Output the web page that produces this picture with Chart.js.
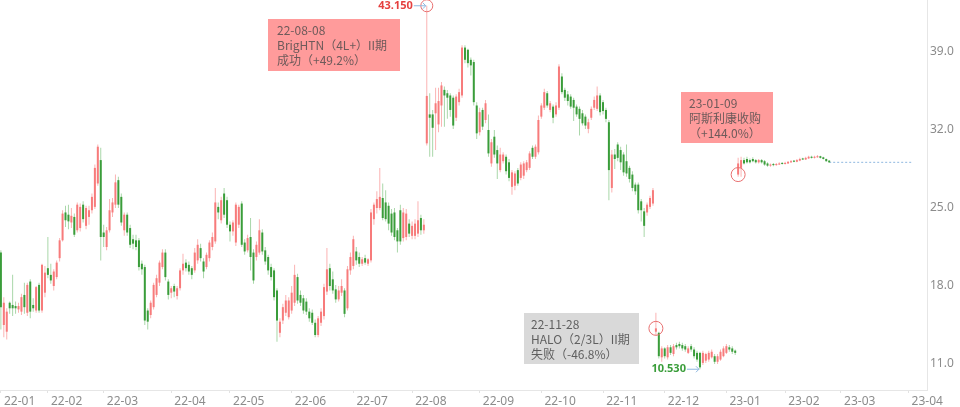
<!DOCTYPE html>
<html>
<head>
<meta charset="utf-8">
<script src="https://cdn.jsdelivr.net/npm/chart.js@4.4.1/dist/chart.umd.min.js"></script>
<style>
  body { margin: 0; background: #fff; }
  #wrap { width: 960px; height: 407px; }
</style>
</head>
<body>
<div id="wrap"><canvas id="grafico" width="960" height="407"></canvas></div>
<script>
// velas diarias (indice = dia de cotizacion desde el primer dato)
const open = [
  21.0,14.5,13.9,16.5,16.3,16.2,15.9,15.7,17.2,15.6,
  18.4,16.3,15.8,18.1,15.8,17.4,19.6,19.0,18.0,18.8,
  20.5,22.1,24.6,24.4,23.7,24.2,23.0,23.2,25.3,23.4,
  24.2,24.8,25.1,27.2,29.3,22.8,21.5,23.0,24.6,25.3,
  27.5,26.0,23.0,24.4,23.2,22.2,22.1,22.1,20.0,19.7,
  15.8,15.4,16.1,17.2,18.3,19.7,21.0,18.4,17.4,18.0,
  17.1,17.8,19.4,20.1,19.9,19.6,19.4,20.3,21.4,20.2,
  19.7,20.5,21.5,22.0,25.1,23.9,26.3,25.7,23.5,22.9,
  21.9,23.5,25.4,21.9,21.2,22.4,21.0,20.6,21.0,22.8,
  21.2,20.6,19.7,19.4,17.6,13.8,14.9,15.6,15.2,15.8,
  16.5,18.8,17.2,16.9,16.6,15.7,15.6,14.7,13.6,14.7,
  15.3,17.5,19.6,18.6,17.7,16.8,17.4,17.6,16.0,19.4,
  19.8,21.1,20.6,20.0,20.5,20.0,20.3,24.0,25.0,25.0,
  25.9,25.5,25.2,24.5,24.6,23.0,24.8,22.3,22.4,23.6,
  22.5,22.5,22.7,24.1,23.0,30.8,33.4,33.4,33.5,32.5,
  34.2,35.6,35.3,35.1,34.9,33.1,34.5,35.1,39.4,39.2,
  38.3,38.1,34.2,31.8,33.8,32.9,32.0,29.0,31.4,30.2,
  28.4,29.2,29.6,29.1,26.9,27.0,28.4,27.7,27.9,28.4,
  28.6,30.4,29.6,30.0,33.2,34.0,35.3,33.8,34.1,33.4,
  34.0,36.8,35.6,35.2,35.0,34.7,34.1,33.9,33.5,33.2,
  32.1,33.1,34.0,33.9,35.1,34.5,33.8,32.7,26.8,29.8,
  30.7,30.2,29.8,29.2,28.6,28.0,27.1,27.1,25.6,24.7,
  24.6,25.1,25.4,13.9,13.8,11.6,12.4,11.6,12.5,11.9,
  12.7,12.8,12.7,12.6,12.0,12.6,12.3,12.0,12.0,11.1,
  11.3,11.4,11.6,11.7,11.2,11.4,11.7,12.0,12.5,12.4,
  12.2,28.0,28.6,29.3,29.4,29.3,29.4,29.3,29.1,29.3,
  29.2,29.0,28.8,28.95,28.85,28.9,29.05,28.95,29.0,29.1,
  29.25,29.15,29.25,29.45,29.35,29.45,29.6,29.5,29.55,29.65,
  29.55,29.4,29.25
];
const high = [
  21.2,17.0,16.0,16.6,19.0,16.6,16.5,17.3,18.3,18.3,
  18.6,16.9,18.0,18.3,20.0,19.8,22.4,20.0,19.5,20.3,
  22.3,24.8,25.2,25.3,25.0,24.5,25.5,25.4,25.6,25.2,
  25.2,26.3,28.9,30.7,30.4,23.5,23.3,25.8,25.9,28.0,
  27.8,26.3,24.6,24.6,23.5,22.6,22.6,22.3,20.3,19.9,
  16.0,16.7,18.3,19.0,20.3,21.3,21.3,18.6,18.0,18.2,
  18.0,19.6,20.9,20.4,20.2,19.8,21.4,22.2,21.8,20.5,
  21.0,22.1,22.8,26.8,25.5,26.0,26.8,26.0,23.8,23.9,
  25.5,25.3,25.6,22.2,22.6,24.1,21.3,22.0,24.0,23.1,
  21.5,20.8,20.0,19.6,17.8,15.1,16.4,17.2,17.0,18.0,
  19.9,19.1,17.6,17.2,16.9,16.0,15.9,15.0,15.3,16.0,
  18.2,21.4,20.0,19.3,18.1,18.0,18.6,17.8,19.8,21.0,
  22.5,21.5,21.0,20.6,20.8,20.5,24.9,25.5,26.5,28.6,
  27.2,26.6,25.5,24.9,25.0,23.2,25.3,25.0,24.9,24.0,
  23.8,24.0,25.6,24.4,24.0,43.15,35.3,33.8,35.8,35.8,
  36.3,35.9,35.6,35.3,35.1,35.2,35.7,39.6,39.6,39.3,
  38.5,38.3,34.5,34.0,34.0,34.7,33.4,31.2,32.0,30.6,
  30.4,30.0,29.8,29.4,28.4,28.3,28.6,29.1,29.2,29.3,
  30.1,30.6,30.7,33.3,34.4,35.7,35.5,34.6,34.3,34.5,
  37.9,37.1,35.8,35.5,35.2,34.9,34.3,34.1,33.8,33.4,
  33.0,34.1,35.0,35.9,35.3,34.7,34.0,32.9,30.2,30.3,
  30.9,30.5,30.0,30.7,28.8,28.3,27.3,27.3,25.8,25.0,
  25.5,26.1,26.8,15.6,13.9,12.6,12.5,12.7,12.7,12.8,
  12.9,13.0,12.9,12.8,12.6,12.8,12.5,12.2,12.1,12.2,
  12.0,12.2,12.3,11.9,11.9,12.3,12.6,12.8,12.7,12.6,
  12.3,29.5,29.6,29.5,29.6,29.45,29.55,29.4,29.4,29.4,
  29.3,29.1,29.0,29.05,29.05,29.1,29.1,29.15,29.2,29.3,
  29.3,29.4,29.5,29.5,29.6,29.7,29.7,29.7,29.75,29.7,
  29.6,29.45,29.3
];
const low = [
  14.1,13.4,13.2,15.5,15.3,15.5,15.6,15.4,15.5,15.3,
  15.1,15.7,15.6,15.6,15.6,17.0,18.7,18.2,17.6,18.6,
  20.2,22.0,23.3,23.1,23.2,22.4,22.8,22.9,23.7,23.1,
  23.5,24.5,24.9,27.0,20.3,21.5,21.2,22.8,24.2,25.0,
  25.0,23.4,22.5,22.5,21.4,21.3,21.2,19.4,19.0,14.5,
  14.1,15.1,15.9,17.0,18.0,19.5,18.5,16.8,16.9,17.0,
  16.8,17.6,19.0,19.3,19.0,18.6,19.2,20.0,20.2,18.7,
  19.5,20.2,21.2,21.8,24.0,23.6,24.1,23.2,22.0,22.5,
  21.6,23.2,21.5,20.8,21.0,19.4,18.2,20.3,20.8,20.8,
  19.9,19.0,18.5,16.7,13.0,13.4,14.6,15.3,15.0,15.5,
  16.2,16.4,16.2,15.5,15.4,14.8,14.5,13.4,13.4,14.4,
  15.0,17.2,17.6,17.3,16.5,16.6,17.1,15.2,15.8,19.0,
  19.5,19.9,19.7,19.8,19.9,19.8,20.1,23.5,24.5,24.8,
  23.9,23.8,23.0,22.5,22.1,21.0,21.7,22.0,22.1,22.4,
  22.2,22.2,22.4,22.6,22.7,30.6,29.6,29.6,30.2,31.8,
  32.3,32.3,33.0,33.2,32.1,32.8,34.2,34.9,38.0,37.6,
  36.9,34.2,31.2,31.5,32.0,32.6,29.6,28.7,29.5,27.6,
  28.2,29.0,28.0,27.4,26.2,26.6,27.0,27.5,27.6,28.2,
  28.4,29.4,29.4,29.8,33.0,33.8,34.0,33.6,32.6,33.2,
  33.8,35.2,34.6,34.2,33.9,32.8,33.2,31.5,32.4,32.1,
  31.7,32.9,33.8,33.7,33.3,33.4,32.7,25.7,26.4,28.5,
  29.2,28.4,27.9,27.8,27.3,26.5,26.2,24.5,23.8,22.4,
  24.3,24.9,25.2,13.6,11.5,11.2,11.5,11.4,11.8,11.7,
  12.3,12.4,12.2,12.1,11.9,12.1,11.5,11.2,10.53,10.9,
  11.1,11.2,11.5,11.0,11.0,11.3,11.6,11.9,12.1,11.9,
  11.8,27.8,27.8,28.9,29.0,29.0,29.1,29.0,29.0,29.0,
  28.8,28.7,28.7,28.75,28.8,28.85,28.9,28.9,28.95,29.05,
  29.1,29.1,29.2,29.3,29.3,29.4,29.45,29.45,29.5,29.45,
  29.35,29.15,29.05
];
const close = [
  16.1,16.5,15.7,16.0,16.0,16.0,16.2,17.0,16.1,18.1,
  15.7,16.0,17.9,15.8,19.9,19.2,19.0,18.5,19.3,20.1,
  22.1,24.5,23.9,23.8,24.3,22.6,25.3,25.1,24.0,25.0,
  24.8,26.0,28.6,30.5,22.4,22.4,23.0,24.8,25.5,27.3,
  25.3,23.7,24.4,22.8,21.7,21.8,21.5,19.7,19.5,14.9,
  14.8,16.5,18.1,18.7,20.1,21.0,18.8,17.2,17.8,17.5,
  17.8,19.4,20.0,19.6,19.3,19.0,21.0,21.7,20.5,19.3,
  20.8,21.9,22.4,25.5,24.6,25.7,24.4,23.5,22.9,23.7,
  25.3,25.1,21.7,21.1,22.3,20.6,18.5,21.7,23.0,21.1,
  20.2,19.4,18.8,17.0,14.9,14.8,16.1,16.7,16.7,17.4,
  19.0,16.7,16.5,15.8,15.7,15.1,14.7,13.6,15.1,15.7,
  17.9,19.5,18.0,17.6,16.8,17.6,18.0,15.5,19.5,20.6,
  22.2,20.3,20.0,20.4,20.1,20.4,24.6,25.3,25.8,26.0,
  24.1,24.0,23.6,22.8,22.4,22.0,22.0,24.6,24.5,22.7,
  23.4,23.6,23.9,23.0,23.5,35.06,33.1,32.2,34.4,34.6,
  36.0,35.1,34.9,33.8,32.4,35.0,35.4,39.4,38.3,38.0,
  37.8,34.5,31.7,33.6,32.3,34.4,29.9,30.9,29.8,29.0,
  29.8,29.8,28.3,27.7,28.2,28.1,27.2,28.9,29.0,29.1,
  29.9,29.6,30.5,32.9,34.2,35.4,34.2,34.4,33.1,34.2,
  37.7,35.4,34.9,34.6,34.1,34.0,33.4,33.0,32.6,32.4,
  32.7,33.9,34.7,35.1,33.6,33.7,33.0,28.4,29.8,29.4,
  29.5,29.1,28.2,28.1,27.6,26.8,26.5,24.8,24.8,23.4,
  25.3,25.9,26.6,14.2,11.7,12.4,11.7,12.5,12.0,12.6,
  12.5,12.6,12.4,12.3,12.4,12.3,11.7,11.4,10.7,12.0,
  11.9,12.0,12.1,11.2,11.7,12.1,12.4,12.6,12.3,12.1,
  12.0,29.0,29.3,29.0,29.1,29.1,29.2,29.1,29.3,29.1,
  28.9,28.8,28.9,28.85,28.95,29.0,28.95,29.05,29.15,29.2,
  29.15,29.3,29.4,29.35,29.5,29.6,29.5,29.6,29.65,29.5,
  29.4,29.2,29.1
];

// eje x: inicio de cada mes (indice de dia) y su etiqueta
const monthIdx = [0, 16, 35, 58, 78, 99, 120, 140, 163, 184, 205, 226, 247, 267, 286, 309];
const monthLabels = ['22-01','22-02','22-03','22-04','22-05','22-06','22-07','22-08','22-09','22-10','22-11','22-12','23-01','23-02','23-03','23-04'];
const yTicks = [11, 18, 25, 32, 39];
const tailEnd = 310; // linea punteada despues del ultimo dato

// eventos
const eventIdx = [145, 223, 251];
const eventPrice = [43.15, 14.2, 28.0];
const eventText = [
  ['22-08-08', 'BrigHTN（4L+）II期', '成功（+49.2%）'],
  ['22-11-28', 'HALO（2/3L）II期', '失败（-46.8%）'],
  ['23-01-09', '阿斯利康收购', '（+144.0%）']
];
const maxIdx = 145, minIdx = 238;

const n = close.length;
const idx = close.map((c, i) => i);
const up = close.map((c, i) => c >= open[i]);
const bodyColor = up.map(u => u ? '#f77b7b' : '#3a9d3a');
const wickColor = up.map(u => u ? '#fbb3b3' : '#a9d7a9');
const fam = '"Noto Sans", "Noto Sans CJK SC", sans-serif';

// cajas de texto (posicion en pixeles)
const boxes = [
  { x: 268, y: 19, w: 132, h: 52, fill: '#ff9b9b', txt: eventText[0], tx: 9, color: '#6e5a5a' },
  { x: 524, y: 313, w: 115, h: 51, fill: '#d9d9d9', txt: eventText[1], tx: 7, color: '#5f5f5f' },
  { x: 681, y: 92, w: 92, h: 51, fill: '#ff9b9b', txt: eventText[2], tx: 8, color: '#6e5a5a' }
];

const marcas = {
  id: 'marcas',
  afterDraw(chart) {
    const ctx = chart.ctx;
    const xs = chart.scales.x, ys = chart.scales.y;
    ctx.save();
    boxes.forEach(b => {
      ctx.fillStyle = b.fill;
      ctx.fillRect(b.x, b.y, b.w, b.h);
      ctx.fillStyle = b.color;
      ctx.font = '12px "Noto Sans CJK SC", sans-serif';
      ctx.textBaseline = 'middle';
      ctx.textAlign = 'left';
      b.txt.forEach((t, k) => ctx.fillText(t, b.x + b.tx, b.y + 11 + k * 15));
    });
    // circulos
    ctx.strokeStyle = '#e87070';
    ctx.lineWidth = 1;
    eventIdx.forEach((e, k) => {
      const px = xs.getPixelForValue(e), py = ys.getPixelForValue(eventPrice[k]);
      ctx.beginPath();
      ctx.arc(px, py, k === 0 ? 6 : 7, 0, Math.PI * 2);
      ctx.stroke();
    });
    // maximo y minimo
    const etiqueta = (i, v, color) => {
      const px = xs.getPixelForValue(i), py = ys.getPixelForValue(v);
      ctx.strokeStyle = '#8fb8e0';
      ctx.beginPath();
      ctx.moveTo(px - 13, py); ctx.lineTo(px - 1, py);
      ctx.moveTo(px - 4, py - 3); ctx.lineTo(px - 1, py); ctx.lineTo(px - 4, py + 3);
      ctx.stroke();
      ctx.fillStyle = color;
      ctx.font = 'bold 11px ' + fam;
      ctx.textAlign = 'right';
      ctx.textBaseline = 'middle';
      ctx.fillText(v.toFixed(3), px - 14, py);
    };
    etiqueta(maxIdx, high[maxIdx], '#e5403f');
    etiqueta(minIdx, low[minIdx], '#3a9d3a');
    ctx.restore();
  }
};

const ctx = document.getElementById('grafico');
new Chart(ctx, {
  type: 'bar',
  data: {
    datasets: [
      {
        data: idx.map(i => ({ x: i, y: [low[i], high[i]] })),
        backgroundColor: wickColor,
        grouped: false,
        maxBarThickness: 1,
        order: 2
      },
      {
        data: idx.map(i => ({ x: i, y: [open[i], close[i]] })),
        backgroundColor: bodyColor,
        grouped: false,
        maxBarThickness: 2,
        minBarLength: 1,
        order: 1
      },
      {
        type: 'line',
        data: [{ x: n - 1, y: close[n - 1] }, { x: tailEnd, y: close[n - 1] }],
        borderColor: '#8fb8e0',
        borderWidth: 1,
        borderDash: [2, 2],
        pointRadius: 0,
        order: 3
      }
    ]
  },
  options: {
    responsive: false,
    animation: false,
    devicePixelRatio: 1,
    layout: { padding: 0 },
    plugins: { legend: { display: false }, tooltip: { enabled: false } },
    scales: {
      x: {
        type: 'linear',
        min: -0.3,
        max: 315.3,
        offset: false,
        grid: { drawOnChartArea: false, tickLength: 3, color: '#e2e2e2', offset: false },
        border: { color: '#e6e6e6' },
        ticks: {
          align: 'start',
          autoSkip: false,
          maxRotation: 0,
          padding: 1,
          color: '#8c8c8c',
          font: { size: 12, family: fam },
          // espacio delante para separar la etiqueta de la marca
          callback: v => ' ' + monthLabels[monthIdx.indexOf(v)]
        },
        afterBuildTicks: s => { s.ticks = monthIdx.map(v => ({ value: v })); },
        afterFit: s => { s.height = 17; s.paddingLeft = 0; s.paddingRight = 0; }
      },
      y: {
        position: 'right',
        min: 8.667,
        max: 43.667,
        grid: { display: false, drawTicks: false },
        border: { display: true, color: '#e6e6e6' },
        ticks: {
          padding: 3,
          color: '#8c8c8c',
          font: { size: 12, family: fam },
          callback: v => v.toFixed(1)
        },
        afterBuildTicks: s => { s.ticks = yTicks.map(v => ({ value: v })); },
        afterFit: s => { s.width = 33; s.paddingTop = 0; s.paddingBottom = 0; }
      }
    }
  },
  plugins: [marcas]
});
</script>
</body>
</html>
